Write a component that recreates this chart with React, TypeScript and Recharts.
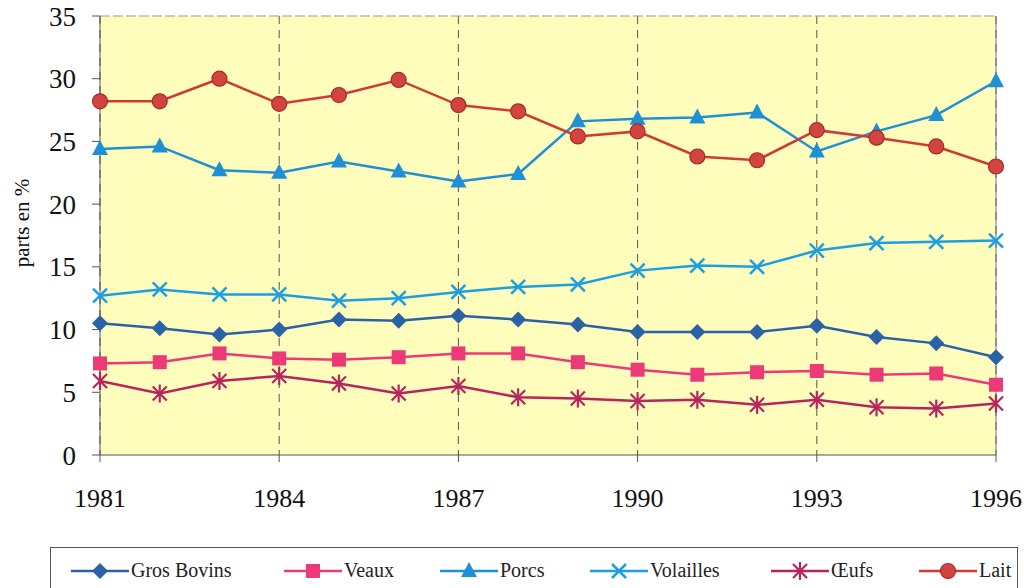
import { LineChart, Line, XAxis, YAxis, CartesianGrid, ReferenceLine } from "recharts";

const YEARS = [1981, 1982, 1983, 1984, 1985, 1986, 1987, 1988, 1989, 1990, 1991, 1992, 1993, 1994, 1995, 1996];
const GROS_BOVINS = [10.5, 10.1, 9.6, 10.0, 10.8, 10.7, 11.1, 10.8, 10.4, 9.8, 9.8, 9.8, 10.3, 9.4, 8.9, 7.8];
const VEAUX = [7.3, 7.4, 8.1, 7.7, 7.6, 7.8, 8.1, 8.1, 7.4, 6.8, 6.4, 6.6, 6.7, 6.4, 6.5, 5.6];
const PORCS = [24.4, 24.6, 22.7, 22.5, 23.4, 22.6, 21.8, 22.4, 26.6, 26.8, 26.9, 27.3, 24.2, 25.8, 27.1, 29.8];
const VOLAILLES = [12.7, 13.2, 12.8, 12.8, 12.3, 12.5, 13.0, 13.4, 13.6, 14.7, 15.1, 15.0, 16.3, 16.9, 17.0, 17.1];
const OEUFS = [5.9, 4.9, 5.9, 6.3, 5.7, 4.9, 5.5, 4.6, 4.5, 4.3, 4.4, 4.0, 4.4, 3.8, 3.7, 4.1];
const LAIT = [28.2, 28.2, 30.0, 28.0, 28.7, 29.9, 27.9, 27.4, 25.4, 25.8, 23.8, 23.5, 25.9, 25.3, 24.6, 23.0];

const X_TICKS = [1981, 1984, 1987, 1990, 1993, 1996];
const Y_TICKS = [0, 5, 10, 15, 20, 25, 30, 35];

const data = YEARS.map((year, i) => ({
  year,
  bovins: GROS_BOVINS[i],
  veaux: VEAUX[i],
  porcs: PORCS[i],
  volailles: VOLAILLES[i],
  oeufs: OEUFS[i],
  lait: LAIT[i],
}));

type Shape = "diamond" | "square" | "triangle" | "cross" | "star" | "circle";

const SERIES: { key: string; name: string; color: string; shape: Shape }[] = [
  { key: "bovins", name: "Gros Bovins", color: "#2b62a6", shape: "diamond" },
  { key: "veaux", name: "Veaux", color: "#ec3a78", shape: "square" },
  { key: "porcs", name: "Porcs", color: "#1f8fd6", shape: "triangle" },
  { key: "volailles", name: "Volailles", color: "#1c9fe2", shape: "cross" },
  { key: "oeufs", name: "Œufs", color: "#b8245e", shape: "star" },
  { key: "lait", name: "Lait", color: "#cf3a36", shape: "circle" },
];

const LEGEND_X = [70, 283, 439, 589, 770, 918];
const FONT = '"Liberation Serif", "Times New Roman", serif';

function Marker({ shape, cx, cy, color }: { shape: Shape; cx: number; cy: number; color: string }) {
  switch (shape) {
    case "diamond":
      return <polygon points={`${cx},${cy - 8} ${cx + 8},${cy} ${cx},${cy + 8} ${cx - 8},${cy}`} fill={color} />;
    case "square":
      return <rect x={cx - 7} y={cy - 7} width={14} height={14} fill={color} />;
    case "triangle":
      return <polygon points={`${cx},${cy - 9} ${cx + 8},${cy + 6} ${cx - 8},${cy + 6}`} fill={color} />;
    case "cross":
      return (
        <g stroke={color} strokeWidth={2.5}>
          <line x1={cx - 7} y1={cy - 7} x2={cx + 7} y2={cy + 7} />
          <line x1={cx - 7} y1={cy + 7} x2={cx + 7} y2={cy - 7} />
        </g>
      );
    case "star":
      return (
        <g stroke={color} strokeWidth={2.2}>
          <line x1={cx - 7} y1={cy - 7} x2={cx + 7} y2={cy + 7} />
          <line x1={cx - 7} y1={cy + 7} x2={cx + 7} y2={cy - 7} />
          <line x1={cx} y1={cy - 9} x2={cx} y2={cy + 9} />
        </g>
      );
    default:
      return <circle cx={cx} cy={cy} r={7.5} fill="#d24440" stroke="#a82a28" strokeWidth={1.2} />;
  }
}

function Legend() {
  return (
    <div
      style={{
        position: "absolute",
        left: 50,
        top: 547,
        width: 968,
        height: 60,
        border: "1.5px solid #555",
        boxSizing: "border-box",
      }}
    >
      {SERIES.map((s, i) => (
        <div
          key={s.key}
          style={{
            position: "absolute",
            left: LEGEND_X[i] - 50,
            top: 11,
            display: "flex",
            alignItems: "center",
            fontFamily: FONT,
            fontSize: 20,
            color: "#222",
          }}
        >
          <svg width={58} height={20}>
            <line x1={0} y1={10} x2={58} y2={10} stroke={s.color} strokeWidth={2.5} />
            <Marker shape={s.shape} cx={29} cy={10} color={s.color} />
          </svg>
          <span style={{ marginLeft: 2 }}>{s.name}</span>
        </div>
      ))}
    </div>
  );
}

export default function App() {
  return (
    <div style={{ position: "absolute", left: 0, top: 0, width: 1024, height: 588, background: "#fff", overflow: "hidden" }}>
      <LineChart width={1024} height={588} data={data} margin={{ top: 16, right: 28, left: 0, bottom: 73 }}>
        <CartesianGrid horizontal={false} strokeDasharray="8 6" stroke="#555" fill="#fefdbb" fillOpacity={1} />
        <ReferenceLine y={35} stroke="#999" strokeDasharray="10 3" />
        <ReferenceLine x={1996} stroke="#777" />
        <XAxis
          dataKey="year"
          type="number"
          domain={[1981, 1996]}
          ticks={X_TICKS}
          height={60}
          tickSize={7}
          tickMargin={27}
          stroke="#555"
          tick={{ fontFamily: FONT, fontSize: 26, fill: "#111" }}
        />
        <YAxis
          domain={[0, 35]}
          ticks={Y_TICKS}
          width={100}
          tickSize={8}
          tickMargin={16}
          stroke="#555"
          tick={{ fontFamily: FONT, fontSize: 27, fill: "#111" }}
          label={{
            content: () => (
              <text
                x={22}
                y={223}
                transform="rotate(-90 22 223)"
                textAnchor="middle"
                dominantBaseline="central"
                style={{ fontFamily: FONT, fontSize: 21 }}
                fill="#111"
              >
                parts en %
              </text>
            ),
          }}
        />
        {SERIES.map((s) => (
          <Line
            key={s.key}
            dataKey={s.key}
            name={s.name}
            stroke={s.color}
            strokeWidth={2.5}
            isAnimationActive={false}
            dot={(p: any) => <Marker key={`${s.key}-${p.index}`} shape={s.shape} cx={p.cx} cy={p.cy} color={s.color} />}
          />
        ))}
      </LineChart>
      <Legend />
    </div>
  );
}
